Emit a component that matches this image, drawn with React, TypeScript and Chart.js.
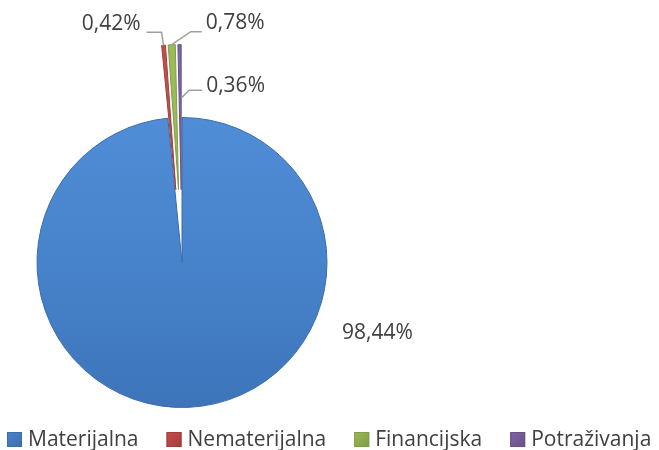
import React, { useEffect, useRef } from "react";
import { Chart, registerables } from "chart.js";

Chart.register(...registerables);

const categories = ["Materijalna", "Nematerijalna", "Financijska", "Potraživanja"];
const shares = [98.44, 0.42, 0.78, 0.36];
const valueLabels = ["98,44%", "0,42%", "0,78%", "0,36%"];
const colors = ["#4A85CC", "#C0504D", "#9BBB59", "#8064A2"];
const edgeColors = ["#3B6DAA", "#A33E3B", "#7F9C46", "#6A5189"];
const explode = [0, 73, 73, 73];

const FONT = "'Open Sans', 'Noto Sans', sans-serif";
const TEXT = "#404040";

const layoutPlugin = {
  id: "fixLayout",
  afterLayout(chart: any) {
    const cx = 182, cy = 262.5, r = 145;
    chart.chartArea = {
      left: cx - r, right: cx + r, top: cy - r, bottom: cy + r,
      width: 2 * r, height: 2 * r,
    };
  },
};

const explodePlugin = {
  id: "explodeSlices",
  beforeDatasetDraw(chart: any, args: any) {
    const ctx = chart.ctx;
    args.meta.data.forEach((arc: any, i: number) => {
      const mid = (arc.startAngle + arc.endAngle) / 2;
      ctx.save();
      ctx.translate(Math.cos(mid) * explode[i], Math.sin(mid) * explode[i]);
      arc.draw(ctx);
      ctx.restore();
    });
    return false;
  },
};

const labelPlugin = {
  id: "pieLabels",
  afterDatasetsDraw(chart: any) {
    const meta = chart.getDatasetMeta(0);
    const ctx = chart.ctx;
    ctx.save();
    ctx.font = `21px ${FONT}`;
    ctx.fillStyle = TEXT;
    ctx.strokeStyle = "#A0A0A0";
    ctx.lineWidth = 1.5;
    ctx.textBaseline = "middle";
    meta.data.forEach((arc: any, i: number) => {
      const mid = (arc.startAngle + arc.endAngle) / 2;
      const off = explode[i];
      const ox = arc.x + Math.cos(mid) * off;
      const oy = arc.y + Math.sin(mid) * off;
      if (i === 0) {
        ctx.textAlign = "left";
        ctx.fillText(valueLabels[i], arc.x + 160, arc.y + 70.5);
        return;
      }
      let ex: number, ey: number;
      if (i === 3) {
        const rr = arc.outerRadius * 0.63;
        ex = ox + Math.cos(arc.endAngle) * rr;
        ey = oy + Math.sin(arc.endAngle) * rr;
      } else {
        ex = ox + Math.cos(mid) * arc.outerRadius;
        ey = oy + Math.sin(mid) * arc.outerRadius;
      }
      let kx: number, ky: number, tx: number;
      ctx.beginPath();
      if (i === 1) {
        kx = ex - 2; ky = ey - 13; tx = kx - 15;
        ctx.moveTo(ex, ey); ctx.lineTo(kx, ky); ctx.lineTo(tx, ky); ctx.stroke();
        ctx.textAlign = "right";
        ctx.fillText(valueLabels[i], tx - 6, ky - 8.5);
      } else if (i === 2) {
        kx = ex + 19; ky = ey - 13; tx = kx + 11;
        ctx.moveTo(ex, ey); ctx.lineTo(kx, ky); ctx.lineTo(tx, ky); ctx.stroke();
        ctx.textAlign = "left";
        ctx.fillText(valueLabels[i], tx + 4, ky - 8.5);
      } else {
        kx = ex + 8; ky = ey - 8; tx = kx + 13;
        ctx.moveTo(ex, ey); ctx.lineTo(kx, ky); ctx.lineTo(tx, ky); ctx.stroke();
        ctx.textAlign = "left";
        ctx.fillText(valueLabels[i], tx + 4, ky - 4);
      }
    });
    ctx.restore();
  },
};

const legendPlugin = {
  id: "bottomLegend",
  afterDraw(chart: any) {
    const ctx = chart.ctx;
    const labels: string[] = chart.data.labels;
    const box = 15, gapText = 6, gapItem = 28;
    ctx.save();
    ctx.font = `21px ${FONT}`;
    ctx.textBaseline = "middle";
    ctx.textAlign = "left";
    const widths = labels.map((l) => ctx.measureText(l).width);
    const total = widths.reduce((a, w) => a + w + box + gapText, 0) + gapItem * (labels.length - 1);
    let x = Math.round((chart.width - total) / 2);
    const cy = 439.5;
    labels.forEach((l, i) => {
      const g = ctx.createLinearGradient(x, cy - box / 2, x + box, cy + box / 2);
      g.addColorStop(0, colors[i]);
      g.addColorStop(1, edgeColors[i]);
      ctx.fillStyle = g;
      ctx.fillRect(x, cy - box / 2, box, box);
      ctx.strokeStyle = edgeColors[i];
      ctx.lineWidth = 1;
      ctx.strokeRect(x + 0.5, cy - box / 2 + 0.5, box - 1, box - 1);
      x += box + gapText;
      ctx.fillStyle = TEXT;
      ctx.fillText(l, x, cy + 1);
      x += widths[i] + gapItem;
    });
    ctx.restore();
  },
};

export default function App() {
  const ref = useRef<HTMLCanvasElement>(null);
  useEffect(() => {
    if (!ref.current) return;
    const chart = new Chart(ref.current, {
      type: "pie",
      data: {
        labels: categories,
        datasets: [
          {
            data: shares,
            backgroundColor: (c: any) => {
              const i = c.dataIndex;
              if (i !== 0) return colors[i];
              const ca = c.chart.chartArea;
              if (!ca || !isFinite(ca.top)) return colors[0];
              const g = c.chart.ctx.createLinearGradient(0, ca.top, 0, ca.bottom);
              g.addColorStop(0, "#4F8DD6");
              g.addColorStop(0.5, "#4783CB");
              g.addColorStop(1, "#3D74BA");
              return g;
            },
            borderColor: edgeColors,
            borderWidth: 1,
            radius: 145,
            clip: false as any,
          } as any,
        ],
      },
      options: {
        responsive: false,
        animation: false,
        layout: { padding: 0 },
        plugins: {
          legend: { display: false },
          tooltip: { enabled: false },
        },
      } as any,
      plugins: [layoutPlugin, explodePlugin, labelPlugin, legendPlugin],
    });
    return () => chart.destroy();
  }, []);
  return (
    <div style={{ position: "fixed", left: 0, top: 0, width: 659, height: 450, background: "#fff" }}>
      <canvas ref={ref} width={659} height={450} style={{ display: "block" }} />
    </div>
  );
}
